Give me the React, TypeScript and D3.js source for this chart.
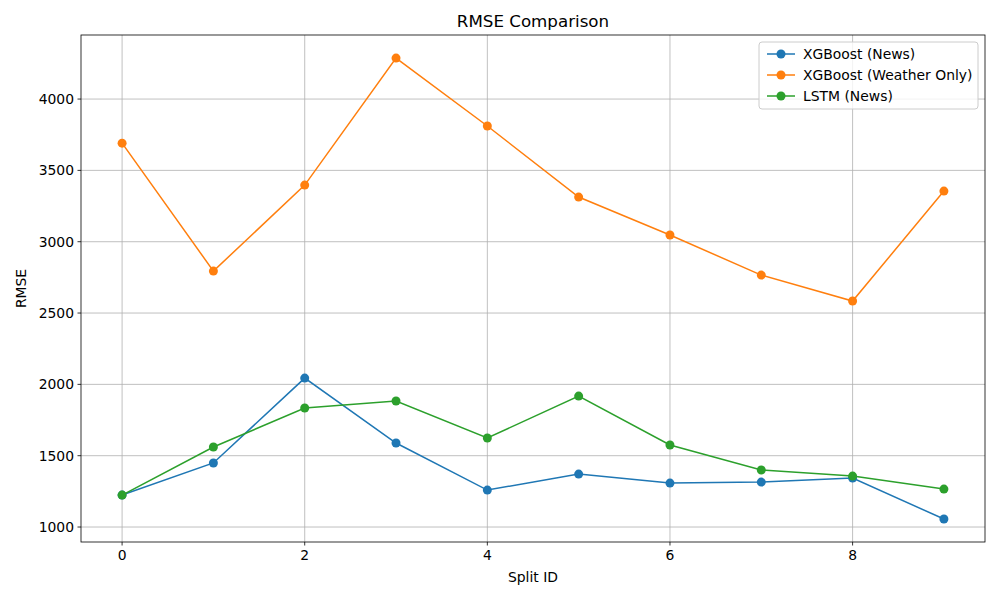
import React from "react";
import * as d3 from "d3";

const splits = [0, 1, 2, 3, 4, 5, 6, 7, 8, 9];
const xgbNews = [1224, 1449, 2044, 1589, 1259, 1371, 1308, 1315, 1343, 1056];
const xgbWeather = [3691, 2794, 3397, 4287, 3811, 3313, 3047, 2766, 2584, 3355];
const lstmNews = [1224, 1561, 1834, 1883, 1624, 1918, 1575, 1400, 1357, 1266];
const xTicks = [0, 2, 4, 6, 8];
const yTicks = [1000, 1500, 2000, 2500, 3000, 3500, 4000];

const series = [
  { name: "XGBoost (News)", values: xgbNews, color: "#1f77b4" },
  { name: "XGBoost (Weather Only)", values: xgbWeather, color: "#ff7f0e" },
  { name: "LSTM (News)", values: lstmNews, color: "#2ca02c" },
];

const App: React.FC = () => {
  const left = 81, right = 985, top = 35, bottom = 542;
  const x = d3.scaleLinear().domain([-0.45, 9.45]).range([left, right]);
  const y = d3.scaleLinear().domain([895, 4449]).range([bottom, top]);
  const line = d3.line<number>().x((_, i) => x(splits[i])).y((d) => y(d));
  const font = "DejaVu Sans, sans-serif";
  const fs = 13.9;

  return (
    <svg width={1000} height={600} style={{ position: "absolute", left: 0, top: 0 }} fontFamily={font}>
      <rect width={1000} height={600} fill="white" />
      {xTicks.map((t) => (
        <g key={"x" + t}>
          <line x1={x(t)} x2={x(t)} y1={top} y2={bottom} stroke="#b0b0b0" strokeWidth={0.8} />
          <line x1={x(t)} x2={x(t)} y1={bottom} y2={bottom + 3.5} stroke="black" strokeWidth={0.8} />
          <text x={x(t)} y={bottom + 18} textAnchor="middle" fontSize={fs}>{t}</text>
        </g>
      ))}
      {yTicks.map((t) => (
        <g key={"y" + t}>
          <line x1={left} x2={right} y1={y(t)} y2={y(t)} stroke="#b0b0b0" strokeWidth={0.8} />
          <line x1={left - 3.5} x2={left} y1={y(t)} y2={y(t)} stroke="black" strokeWidth={0.8} />
          <text x={left - 7} y={y(t) + 5} textAnchor="end" fontSize={fs}>{t}</text>
        </g>
      ))}
      {series.map((s) => (
        <g key={s.name}>
          <path d={line(s.values) || ""} fill="none" stroke={s.color} strokeWidth={1.5} />
          {s.values.map((v, i) => (
            <circle key={i} cx={x(splits[i])} cy={y(v)} r={4.5} fill={s.color} />
          ))}
        </g>
      ))}
      <rect x={left} y={top} width={right - left} height={bottom - top} fill="none" stroke="black" strokeWidth={0.8} />
      <text x={(left + right) / 2} y={27} textAnchor="middle" fontSize={16.7}>RMSE Comparison</text>
      <text x={(left + right) / 2} y={582} textAnchor="middle" fontSize={fs}>Split ID</text>
      <text transform={`translate(26, ${(top + bottom) / 2}) rotate(-90)`} textAnchor="middle" fontSize={fs}>RMSE</text>
      <g transform="translate(759, 42)">
        <rect width={219} height={67} fill="white" fillOpacity={0.8} stroke="#cccccc" rx={3} />
        {series.map((s, i) => (
          <g key={s.name} transform={`translate(0, ${12 + i * 21})`}>
            <line x1={8} x2={36} y1={0} y2={0} stroke={s.color} strokeWidth={1.5} />
            <circle cx={22} cy={0} r={4.5} fill={s.color} />
            <text x={44} y={5} fontSize={fs}>{s.name}</text>
          </g>
        ))}
      </g>
    </svg>
  );
};

export default App;
